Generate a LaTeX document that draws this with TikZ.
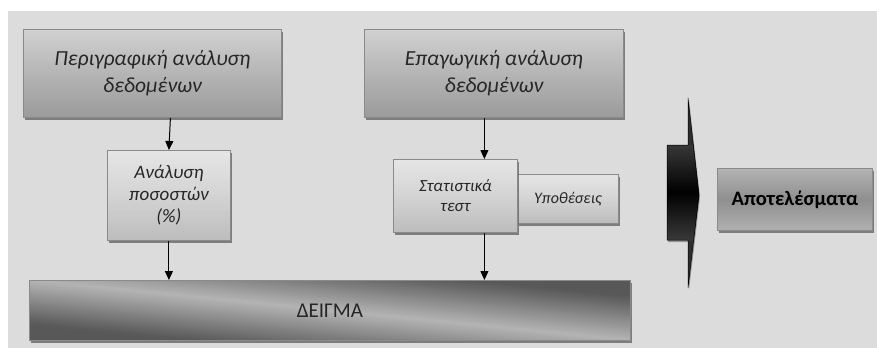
\documentclass[tikz,border=0pt]{standalone}
\usepackage{fontspec}
\setmainfont{Carlito}
\usetikzlibrary{arrows.meta,shadows,calc}

\definecolor{bgcol}{HTML}{DCDCDC}
\definecolor{edgecol}{HTML}{8A8A8A}
\definecolor{txtcol}{HTML}{262626}
\definecolor{shadowcol}{HTML}{666666}
\definecolor{bardark}{HTML}{585858}
\definecolor{barlight}{HTML}{B4B4B4}

% strip colour for step \i of 48: #1 -> #2 -> #3
\newcommand\gradcolor[3]{%
  \colorlet{gcola}{#1}\colorlet{gcolb}{#2}\colorlet{gcolc}{#3}%
  \pgfmathsetmacro\gp{min(200*(\i+0.5)/48,100)}%
  \pgfmathsetmacro\gq{max(200*(\i+0.5)/48-100,0)}%
  \colorlet{gtmp}{gcolb!\gp!gcola}%
  \colorlet{gstrip}{gcolc!\gq!gtmp}%
}

\tikzset{
  % top-middle-bottom gradient made of thin horizontal strips
  vgrad/.style n args={3}{path picture={
    \foreach \i in {0,...,47}{
      \gradcolor{#1}{#2}{#3}
      \fill[gstrip] let \p1=(path picture bounding box.north west),
                        \p2=(path picture bounding box.south east) in
        (\x1, {\y1+(\y2-\y1)*\i/48}) rectangle (\x2, {\y1+(\y2-\y1)*(\i+1.6)/48});
    }
  }},
  % light band running from the upper left to the lower right corner
  diaggrad/.style={path picture={
    \coordinate (ppc) at (path picture bounding box.center);
    \foreach \i in {0,...,47}{
      \gradcolor{bardark}{barlight}{bardark}
      \pgfmathsetmacro\ga{-44+88*\i/48}
      \pgfmathsetmacro\gb{-44+88*(\i+1.6)/48}
      \fill[gstrip] ($(ppc)+(-320,-32+\ga)$) -- ($(ppc)+(320,32+\ga)$)
        -- ($(ppc)+(320,32+\gb)$) -- ($(ppc)+(-320,-32+\gb)$) -- cycle;
    }
  }},
  boxshadow/.style={drop shadow={shadow xshift=2pt, shadow yshift=-3pt, fill=shadowcol, opacity=.8}},
  plainbox/.style={draw=edgecol, line width=.8pt, anchor=north west, boxshadow,
    align=center, inner sep=0pt},
  bigbox/.style={plainbox, fill=black!27, vgrad={black!18}{black!29}{black!39}, text=txtcol,
    font=\itshape\fontsize{21.5}{27}\selectfont},
  smallbox/.style={plainbox, fill=black!18, vgrad={black!10}{black!17}{black!26}, text=txtcol},
  flow/.style={line width=1pt, -{Triangle[width=8pt,length=9pt]}},
}

\begin{document}
\begin{tikzpicture}[x=1pt, y=-1pt]
  \useasboundingbox (0,0) rectangle (877,348);
  % backdrop panel
  \fill[bgcol] (8,11) rectangle (877,348);

  % the two analysis headers
  \node[bigbox, minimum width=258pt, minimum height=88pt] (desc) at (23,29)
    {Περιγραφική ανάλυση\\δεδομένων};
  \node[bigbox, minimum width=259pt, minimum height=88pt] (infer) at (364,29)
    {Επαγωγική ανάλυση\\δεδομένων};

  % methods
  \node[smallbox, minimum width=123pt, minimum height=90pt,
    font=\itshape\fontsize{19}{22}\selectfont] (perc) at (107,150)
    {Ανάλυση\\ποσοστών\\(\%)};
  \node[smallbox, minimum width=101pt, minimum height=49pt,
    font=\itshape\fontsize{16}{20}\selectfont] (hyp) at (517,174)
    {Υποθέσεις};
  \node[smallbox, minimum width=124pt, minimum height=73pt,
    font=\itshape\fontsize{17}{20}\selectfont] (stat) at (393,159)
    {Στατιστικά\\τεστ};

  % sample bar
  \node[plainbox, minimum width=601pt, minimum height=60pt, fill=bardark, diaggrad,
    text=txtcol, font=\fontsize{21}{24}\selectfont] (sample) at (29,280) {ΔΕΙΓΜΑ};

  % results
  \node[plainbox, minimum width=155pt, minimum height=62pt, fill=black!40,
    vgrad={black!29}{black!44}{black!31},
    font=\bfseries\fontsize{20.5}{24}\selectfont] (res) at (717,168) {Αποτελέσματα};

  % block arrow towards the results
  \fill[shadowcol, opacity=.6] (668,147) -- (689,147) -- (689,100) -- (700,197)
    -- (689,290) -- (689,242) -- (668,242) -- cycle;
  \begin{scope}
    \path[clip] (667,145) -- (688,145) -- (688,98) -- (699,195) -- (688,288)
      -- (688,240) -- (667,240) -- cycle;
    \fill[black!82] (660,95) rectangle (705,292);
    \foreach \i in {0,...,47}{
      \gradcolor{black!78}{black}{black!78}
      \fill[gstrip] (660,{145+95*\i/48}) rectangle (705,{145+95*(\i+1.6)/48});
    }
  \end{scope}
  \draw[black, line width=.5pt] (667,145) -- (688,145) -- (688,98) -- (699,195)
    -- (688,288) -- (688,240) -- (667,240) -- cycle;

  % connectors
  \draw[flow] ([xshift=18pt]desc.south) -- (perc.north);
  \draw[flow] (perc.south) -- (perc.south |- sample.north);
  \draw[flow] ([xshift=29pt]stat.north |- infer.south) -- ([xshift=29pt]stat.north);
  \draw[flow] ([xshift=29pt]stat.south) -- ([xshift=29pt]stat.south |- sample.north);
\end{tikzpicture}
\end{document}
